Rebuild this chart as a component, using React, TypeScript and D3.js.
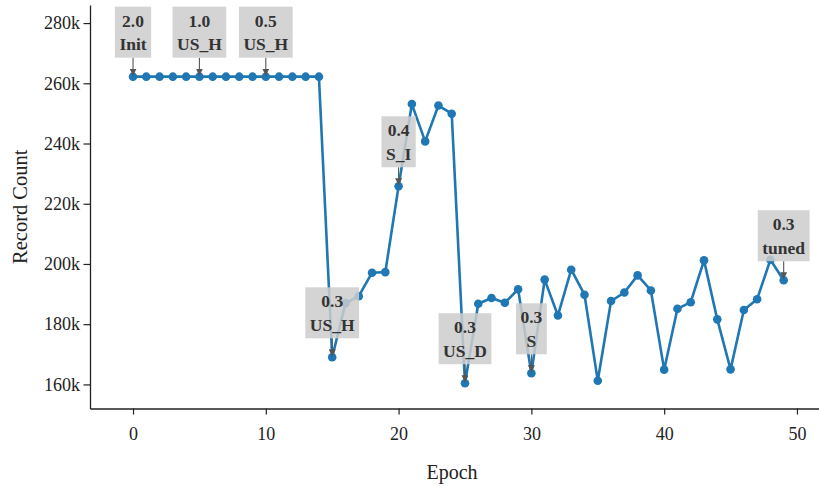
import React, { useEffect, useRef } from "react";
import * as d3 from "d3";

const epochs = [
  0, 1, 2, 3, 4, 5, 6, 7, 8, 9, 10, 11, 12, 13, 14, 15, 16, 17, 18, 19, 20, 21, 22, 23, 24,
  25, 26, 27, 28, 29, 30, 31, 32, 33, 34, 35, 36, 37, 38, 39, 40, 41, 42, 43, 44, 45, 46, 47, 48, 49,
];
const recordCounts = [
  262200, 262200, 262200, 262200, 262200, 262200, 262200, 262200, 262200, 262200, 262200, 262200,
  262200, 262200, 262200, 169000, 187000, 189300, 197100, 197300, 225800, 253100, 240700, 252600,
  249900, 160400, 186800, 188700, 187100, 191600, 163700, 194800, 182900, 198100, 189800, 161200,
  187700, 190500, 196200, 191200, 164900, 185100, 187300, 201200, 181600, 165000, 184700, 188300,
  201400, 194600,
];
const annotEpochs = [0, 5, 10, 15, 20, 25, 30, 49];
const annotValues = ["2.0", "1.0", "0.5", "0.3", "0.4", "0.3", "0.3", "0.3"];
const annotNames = ["Init", "US_H", "US_H", "US_H", "S_I", "US_D", "S", "tuned"];
const xTicks = [0, 10, 20, 30, 40, 50];
const yTicks = [160000, 180000, 200000, 220000, 240000, 260000, 280000];

const W = 819;
const H = 487;
const FONT = "Liberation Serif, Tinos, Times New Roman, serif";

export default function App() {
  const ref = useRef<SVGSVGElement>(null);

  useEffect(() => {
    const svg = d3.select(ref.current!);
    svg.selectAll("*").remove();

    const left = 90;
    const right = 819;
    const top = 5;
    const bottom = 408.5;

    const x = d3.scaleLinear().domain([-3.24, 51.66]).range([left, right]);
    const y = d3.scaleLinear().domain([152000, 286000]).range([bottom, top]);

    const xAxis = d3
      .axisBottom(x)
      .tickValues(xTicks)
      .tickSize(6)
      .tickSizeOuter(0)
      .tickPadding(12.7)
      .tickFormat((d) => String(d));
    const gx = svg.append("g").attr("transform", `translate(0,${bottom})`).call(xAxis);
    gx.attr("font-family", null).attr("font-size", null);
    gx.select(".domain").attr("stroke", "#222").attr("stroke-width", 1.3);
    gx.selectAll(".tick line").attr("stroke", "#222").attr("stroke-width", 1.2);
    gx.selectAll(".tick text")
      .style("font-family", FONT)
      .style("font-size", "18px")
      .attr("fill", "#222");

    const yAxis = d3
      .axisLeft(y)
      .tickValues(yTicks)
      .tickSize(6.5)
      .tickSizeOuter(0)
      .tickPadding(3.5)
      .tickFormat((d) => `${(d as number) / 1000}k`);
    const gy = svg.append("g").attr("transform", `translate(${left},0)`).call(yAxis);
    gy.attr("font-family", null).attr("font-size", null);
    gy.select(".domain").attr("stroke", "#222").attr("stroke-width", 1.3);
    gy.selectAll(".tick line").attr("stroke", "#222").attr("stroke-width", 1.2);
    gy.selectAll(".tick text")
      .style("font-family", FONT)
      .style("font-size", "18px")
      .attr("fill", "#222");

    svg
      .append("text")
      .attr("x", 452)
      .attr("y", 479)
      .attr("text-anchor", "middle")
      .style("font-family", FONT)
      .style("font-size", "20px")
      .attr("fill", "#222")
      .text("Epoch");

    svg
      .append("text")
      .attr("transform", `translate(27,${(top + bottom) / 2}) rotate(-90)`)
      .attr("text-anchor", "middle")
      .style("font-family", FONT)
      .style("font-size", "20.5px")
      .attr("fill", "#222")
      .text("Record Count");

    const color = "#1f77b4";
    const line = d3
      .line<number>()
      .x((_, i) => x(epochs[i]))
      .y((d) => y(d));
    svg
      .append("path")
      .datum(recordCounts)
      .attr("d", line)
      .attr("fill", "none")
      .attr("stroke", color)
      .attr("stroke-width", 2.6)
      .attr("stroke-linejoin", "round");

    svg
      .append("g")
      .selectAll("circle")
      .data(recordCounts)
      .join("circle")
      .attr("cx", (_, i) => x(epochs[i]))
      .attr("cy", (d) => y(d))
      .attr("r", 4.3)
      .attr("fill", color);

    const defs = svg.append("defs");
    defs
      .append("marker")
      .attr("id", "arr")
      .attr("viewBox", "0 0 10 10")
      .attr("refX", 10)
      .attr("refY", 5)
      .attr("markerWidth", 7)
      .attr("markerHeight", 7)
      .attr("markerUnits", "userSpaceOnUse")
      .attr("orient", "auto")
      .append("path")
      .attr("d", "M0,0 L10,5 L0,10 z")
      .attr("fill", "#555");

    const ag = svg.append("g");
    annotEpochs.forEach((ep, k) => {
      const idx = epochs.indexOf(ep);
      const px = x(ep);
      const py = y(recordCounts[idx]);
      const boxBottom = py - 19;
      const boxTop = boxBottom - 51;

      ag.append("line")
        .attr("x1", px)
        .attr("y1", boxBottom)
        .attr("x2", px)
        .attr("y2", py - 1)
        .attr("stroke", "#555")
        .attr("stroke-width", 1.1)
        .attr("marker-end", "url(#arr)");

      const g = ag.append("g");
      const rect = g.append("rect").attr("fill", "#cdcdcd").attr("fill-opacity", 0.85);
      const t1 = g
        .append("text")
        .attr("x", px)
        .attr("y", boxTop + 20)
        .attr("text-anchor", "middle")
        .style("font-family", FONT)
        .style("font-weight", "bold")
        .style("font-size", "17.5px")
        .attr("fill", "#333")
        .text(annotValues[k]);
      const t2 = g
        .append("text")
        .attr("x", px)
        .attr("y", boxTop + 43.5)
        .attr("text-anchor", "middle")
        .style("font-family", FONT)
        .style("font-weight", "bold")
        .style("font-size", "17.5px")
        .attr("fill", "#333")
        .text(annotNames[k]);
      const w = Math.max(
        (t1.node() as SVGTextElement).getComputedTextLength(),
        (t2.node() as SVGTextElement).getComputedTextLength()
      );
      const bw = w + 9;
      rect
        .attr("x", px - bw / 2)
        .attr("y", boxTop)
        .attr("width", bw)
        .attr("height", 51);
    });
  }, []);

  return (
    <svg
      ref={ref}
      width={W}
      height={H}
      style={{ position: "absolute", left: 0, top: 0, background: "#fff" }}
    />
  );
}
